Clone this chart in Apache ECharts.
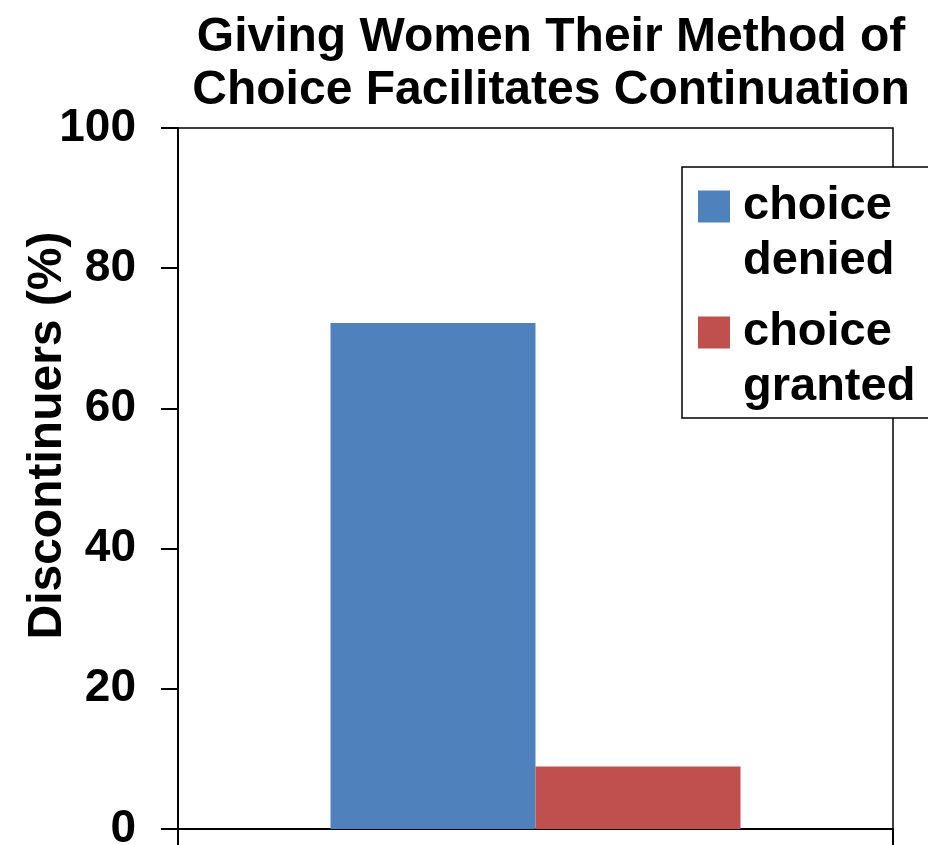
<!DOCTYPE html>
<html>
<head>
<meta charset="utf-8">
<script src="https://cdn.jsdelivr.net/npm/echarts@6/dist/echarts.min.js"></script>
<style>
  html, body { margin: 0; padding: 0; background: #fff; }
  #chart { width: 928px; height: 845px; }
</style>
</head>
<body>
<div id="chart"></div>
<script>
// Un solo grupo con dos barras (elección negada / concedida)
const categories   = [''];
const seriesNames  = ['choice\ndenied', 'choice\ngranted'];
const deniedVals   = [72.2];
const grantedVals  = [8.9];
const seriesColors = ['#4F81BD', '#C0504D'];

const FONT = '"Liberation Sans", Arial, sans-serif';

// icono cuadrado alineado con la primera línea del texto de la leyenda
const LEGEND_ICON = 'path://M0,0 M0,11.5h32v32h-32z M40,110';

const chart = echarts.init(document.getElementById('chart'), null, { renderer: 'canvas' });

chart.setOption({
  backgroundColor: '#fff',
  animation: false,
  title: {
    text: 'Giving Women Their Method of\nChoice Facilitates Continuation',
    left: 551,
    top: 11,
    padding: 0,
    textAlign: 'center',
    textStyle: { fontFamily: FONT, fontSize: 48, fontWeight: 'bold', color: '#000', lineHeight: 53 },
  },
  legend: {
    orient: 'vertical',
    left: 682,
    top: 167,
    padding: [12, 20, 3, 16],
    itemGap: 16,
    itemWidth: 40,
    itemHeight: 110,
    icon: LEGEND_ICON,
    backgroundColor: '#fff',
    borderColor: '#000',
    borderWidth: 1.5,
    borderRadius: 0,
    selectedMode: false,
    textStyle: { fontFamily: FONT, fontSize: 47, fontWeight: 'bold', color: '#000', lineHeight: 55 },
    data: seriesNames,
  },
  grid: {
    left: 178, right: 35, top: 128, bottom: 16,
    outerBoundsMode: 'none',
    containLabel: false,
    show: true, borderColor: '#000', borderWidth: 1.5,
  },
  xAxis: {
    type: 'category',
    data: categories,
    axisLine: { lineStyle: { color: '#000', width: 2 } },
    axisTick: { show: true, length: 20, lineStyle: { color: '#000', width: 2 } },
    axisLabel: { show: false },
  },
  yAxis: {
    type: 'value',
    min: 0, max: 100, interval: 20,
    name: 'Discontinuers (%)',
    nameLocation: 'middle',
    nameGap: 106,
    nameMoveOverlap: false,
    nameTextStyle: { fontFamily: FONT, fontSize: 48, fontWeight: 'bold', color: '#000', padding: [0, 0, 0, 86] },
    axisLine: { show: true, lineStyle: { color: '#000', width: 2 } },
    axisTick: { show: true, length: 17, lineStyle: { color: '#000', width: 2 } },
    axisLabel: { fontFamily: FONT, fontSize: 46, fontWeight: 'bold', color: '#000', margin: 42 },
    splitLine: { show: false },
  },
  series: [
    {
      name: seriesNames[0], type: 'bar', data: deniedVals,
      barWidth: 205, barGap: '0%',
      itemStyle: { color: seriesColors[0] },
    },
    {
      name: seriesNames[1], type: 'bar', data: grantedVals,
      barWidth: 205, barGap: '0%',
      itemStyle: { color: seriesColors[1] },
    },
  ],
});
</script>
</body>
</html>
